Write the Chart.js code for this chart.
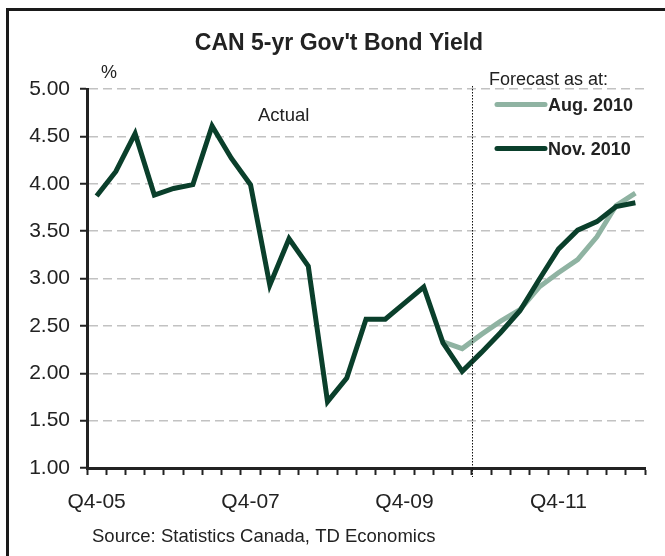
<!DOCTYPE html>
<html>
<head>
<meta charset="utf-8">
<script src="https://cdn.jsdelivr.net/npm/chart.js@4/dist/chart.umd.min.js"></script>
<style>
  html, body { margin: 0; padding: 0; background: #fff; }
  #wrap { width: 665px; height: 556px; }
</style>
</head>
<body>
<div id="wrap"><canvas id="bondChart" width="665" height="556"></canvas></div>
<script>
// quarters Q4-05 .. Q4-12
var quarters = ['Q4-05','Q1-06','Q2-06','Q3-06','Q4-06','Q1-07','Q2-07','Q3-07','Q4-07',
  'Q1-08','Q2-08','Q3-08','Q4-08','Q1-09','Q2-09','Q3-09','Q4-09',
  'Q1-10','Q2-10','Q3-10','Q4-10','Q1-11','Q2-11','Q3-11','Q4-11',
  'Q1-12','Q2-12','Q3-12','Q4-12'];
var shownLabels = ['Q4-05','Q4-07','Q4-09','Q4-11'];

// actual + Nov. 2010 forecast (one dark line)
var novYield = [3.87, 4.13, 4.53, 3.88, 3.95, 3.99, 4.61, 4.27, 3.99,
  2.93, 3.42, 3.13, 1.70, 1.95, 2.57, 2.57, 2.74,
  2.91, 2.32, 2.02, 2.22, 2.43, 2.66, 2.99, 3.31,
  3.51, 3.60, 3.76, 3.80];
// Aug. 2010 forecast, starts at Q2-10
var augYield = [null, null, null, null, null, null, null, null, null,
  null, null, null, null, null, null, null, null,
  null, 2.33, 2.26, 2.41, 2.55, 2.67, 2.91, 3.06,
  3.20, 3.44, 3.77, 3.90];

var yTicks = [1.00, 1.50, 2.00, 2.50, 3.00, 3.50, 4.00, 4.50, 5.00];

var darkGreen = '#0a3f2b';
var lightGreen = '#8fb3a2';
var txtColor = '#222222';
var fontName = '"Liberation Sans", Arial, sans-serif';

var extras = {
  id: 'extras',
  beforeDraw: function(chart) {
    var ctx = chart.ctx;
    ctx.save();
    ctx.fillStyle = '#fff';
    ctx.fillRect(0, 0, chart.width, chart.height);
    ctx.restore();
  },
  afterDatasetsDraw: function(chart) {
    var ctx = chart.ctx;
    var x = chart.scales.x;
    // forecast divider between Q3-10 and Q4-10
    var xd = Math.round((x.getPixelForValue(19) + x.getPixelForValue(20)) / 2) + 0.5;
    ctx.save();
    ctx.strokeStyle = '#111';
    ctx.lineWidth = 1;
    ctx.setLineDash([1.5, 1.5]);
    ctx.beginPath();
    ctx.moveTo(xd, 86);
    ctx.lineTo(xd, chart.chartArea.bottom + 9);
    ctx.stroke();
    ctx.restore();
  },
  afterDraw: function(chart) {
    var ctx = chart.ctx;
    ctx.save();
    // frame
    ctx.strokeStyle = '#1a1a1a';
    ctx.lineWidth = 3;
    ctx.beginPath();
    ctx.moveTo(7.5, chart.height);
    ctx.lineTo(7.5, 9.5);
    ctx.lineTo(chart.width, 9.5);
    ctx.stroke();

    ctx.fillStyle = txtColor;
    ctx.textBaseline = 'alphabetic';
    ctx.textAlign = 'center';
    ctx.font = 'bold 23px ' + fontName;
    ctx.fillText("CAN 5-yr Gov't Bond Yield", 339, 50);

    ctx.textAlign = 'left';
    ctx.textBaseline = 'middle';
    ctx.font = '18px ' + fontName;
    ctx.fillText('%', 101, 73);
    ctx.font = '18.5px ' + fontName;
    ctx.fillText('Actual', 258, 116);
    ctx.fillText('Source: Statistics Canada, TD Economics', 92, 537);

    // legend
    ctx.font = '18px ' + fontName;
    ctx.fillText('Forecast as at:', 489, 80);
    var items = [
      { label: chart.data.datasets[1].label, color: chart.data.datasets[1].borderColor, y: 104.5 },
      { label: chart.data.datasets[0].label, color: chart.data.datasets[0].borderColor, y: 148.5 }
    ];
    items.forEach(function(it) {
      ctx.strokeStyle = it.color;
      ctx.lineWidth = 5;
      ctx.lineCap = 'round';
      ctx.beginPath();
      ctx.moveTo(497, it.y);
      ctx.lineTo(545, it.y);
      ctx.stroke();
      ctx.font = 'bold 18px ' + fontName;
      ctx.fillText(it.label, 548, it.y + 2);
    });
    ctx.restore();
  }
};

new Chart(document.getElementById('bondChart'), {
  type: 'line',
  data: {
    labels: quarters,
    datasets: [{
      label: 'Nov. 2010',
      data: novYield,
      borderColor: darkGreen,
      borderWidth: 5,
      pointRadius: 0,
      tension: 0,
      borderJoinStyle: 'miter'
    }, {
      label: 'Aug. 2010',
      data: augYield,
      borderColor: lightGreen,
      borderWidth: 5,
      pointRadius: 0,
      tension: 0,
      borderJoinStyle: 'miter'
    }]
  },
  options: {
    responsive: false,
    animation: false,
    layout: { padding: { top: 89, right: 20, left: 0, bottom: 0 } },
    plugins: {
      legend: { display: false },
      title: { display: false },
      tooltip: { enabled: false }
    },
    scales: {
      x: {
        type: 'category',
        offset: true,
        afterFit: function(s) { s.height = 88; },
        grid: {
          offset: true,
          drawOnChartArea: false,
          drawTicks: true,
          tickLength: 7,
          tickColor: txtColor,
          tickWidth: 2
        },
        border: { color: txtColor, width: 3 },
        ticks: {
          autoSkip: false,
          maxRotation: 0,
          padding: 15,
          color: txtColor,
          font: { family: fontName, size: 21 },
          callback: function(v) {
            var lab = this.getLabelForValue(v);
            return shownLabels.indexOf(lab) >= 0 ? lab : '';
          }
        }
      },
      y: {
        min: 1,
        max: 5,
        afterFit: function(s) { s.width = 87; },
        afterBuildTicks: function(s) {
          s.ticks = yTicks.map(function(v) { return { value: v }; });
        },
        grid: {
          color: '#c2c2c2',
          lineWidth: 1.5,
          tickLength: 7,
          tickColor: txtColor,
          tickWidth: 2
        },
        border: { color: txtColor, width: 3, dash: [9, 5] },
        ticks: {
          padding: 10,
          color: txtColor,
          font: { family: fontName, size: 21 },
          callback: function(v) { return Number(v).toFixed(2); }
        }
      }
    }
  },
  plugins: [extras]
});
</script>
</body>
</html>
